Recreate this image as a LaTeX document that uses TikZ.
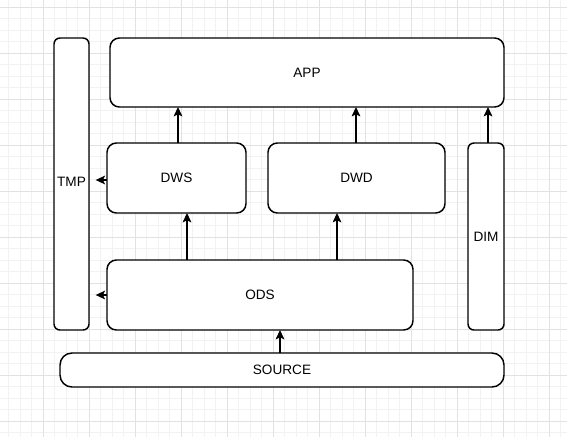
\documentclass[tikz,border=0pt]{standalone}
\usepackage{fontspec}
\setmainfont{Liberation Sans}
\usetikzlibrary{arrows.meta}
\begin{document}
\begin{tikzpicture}[x=0.75pt,y=-0.75pt,
  box/.style={draw=black,line width=1.1pt,fill=white,rounded corners=7pt,inner sep=0pt,outer sep=0pt,font=\fontsize{10.2pt}{12pt}\selectfont},
  thin box/.style={box,rounded corners=4.5pt},
  arr/.style={line width=1.1pt,-{Stealth[length=7pt,width=6.5pt,inset=1.5pt]}},
  minorgrid/.style={draw={rgb,255:red,242;green,242;blue,242},line width=0.6pt},
  majorgrid/.style={draw={rgb,255:red,226;green,226;blue,226},line width=0.6pt}]
\useasboundingbox (0,0) rectangle (567,437);
\fill[white] (0,0) rectangle (567,437);
% grid
\foreach \i in {-4,...,45} {
  \draw[minorgrid] ({43+11.5*\i},0) -- ({43+11.5*\i},437);
  \draw[minorgrid] (0,{421-11.5*\i}) -- (567,{421-11.5*\i});
}
\foreach \i in {-1,...,11} {
  \draw[majorgrid] ({43+46*\i},0) -- ({43+46*\i},437);
  \draw[majorgrid] (0,{421-46*\i}) -- (567,{421-46*\i});
}
% nodes
\node[thin box,minimum width=26.25pt,minimum height=219pt] (TMP) at (71.5,184) {};
\node at (71.5,182) [font=\fontsize{10.2pt}{12pt}\selectfont] (TMPt) {TMP};
\node[box,minimum width=295.5pt,minimum height=51.75pt] (APP) at (307,72.5) {APP};
\node[box,minimum width=104.25pt,minimum height=52.5pt] (DWS) at (176.5,178) {DWS};
\node[box,minimum width=132.75pt,minimum height=52.5pt] (DWD) at (356.5,178) {DWD};
\node[thin box,minimum width=27pt,minimum height=140.25pt] (DIM) at (486,236.5) {DIM};
\node[box,minimum width=229.5pt,minimum height=52.5pt] (ODS) at (260,295) {ODS};
\node[box,rounded corners=9pt,minimum width=333pt,minimum height=25.5pt] (SOURCE) at (282,370) {SOURCE};
% helper coordinates
\coordinate (c178) at (178,0);
\coordinate (c356) at (356,0);
\coordinate (c488) at (488,0);
\coordinate (c187) at (187,0);
\coordinate (c337) at (337,0);
\coordinate (c280) at (280,0);
\coordinate (r180) at (0,180);
\coordinate (r295) at (0,295);
% connectors
\draw[arr] (DWS.north -| c178) -- (APP.south -| c178);
\draw[arr] (DWD.north -| c356) -- (APP.south -| c356);
\draw[arr] (DIM.north -| c488) -- (APP.south -| c488);
\draw[arr] (ODS.north -| c187) -- (DWS.south -| c187);
\draw[arr] (ODS.north -| c337) -- (DWD.south -| c337);
\draw[arr] (SOURCE.north -| c280) -- (ODS.south -| c280);
\draw[arr,shorten >=5pt] (DWS.west |- r180) -- (TMP.east |- r180);
\draw[arr,shorten >=5pt] (ODS.west |- r295) -- (TMP.east |- r295);
\end{tikzpicture}
\end{document}
